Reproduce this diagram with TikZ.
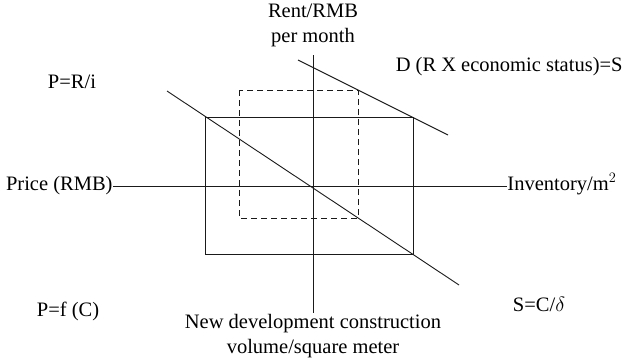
\documentclass[tikz,border=0pt]{standalone}
\usepackage{fontspec}
\setmainfont{Liberation Serif}
\usepackage{xcolor}
\usepackage{tikz}
\usetikzlibrary{positioning, arrows.meta, calc}
\definecolor{linegray}{HTML}{1A1A1A}

\begin{document}
\begin{tikzpicture}[x=1pt, y=-1pt, line width=0.9pt, draw=linegray,
    lbl/.style={inner sep=0pt, font=\fontsize{20.5}{25}\selectfont, align=center}]
    \useasboundingbox (0,0) rectangle (625,364);
    % axis labels
    \node[lbl, anchor=north] (rent) at (313,4) {Rent/RMB\\per month};
    \node[lbl, anchor=north] (vol) at (313,314) {New development construction\\volume/square meter};
    \node[lbl, anchor=east] (price) at (113,186) {Price (RMB)};
    \node[lbl, anchor=west] (inv) at (507,184) {Inventory/m$^2$};
    % curve labels
    \node[lbl] (pri) at (72,82) {P=R/i};
    \node[lbl, anchor=east] (dem) at (623,67) {D (R X economic status)=S};
    \node[lbl] (pfc) at (68,311) {P=f (C)};
    \node[lbl] (sup) at (539,304) {S=C/$\delta$};
    % axes
    \coordinate (vtop) at (313,55);
    \coordinate (vbot) at (313,313);
    \draw (vtop) -- (vbot);
    \draw (price.east) -- (price.east -| inv.west);
    % rectangles
    \draw (205,117) rectangle (413,254);
    \draw[dashed, dash pattern=on 6pt off 4pt] (239,90) rectangle (358,218);
    % supply and demand lines
    \coordinate (sa) at (167,91);
    \coordinate (sb) at (459,285);
    \coordinate (da) at (298,60);
    \coordinate (db) at (448,135);
    \draw (sa) -- (sb);
    \draw (da) -- (db);
  \end{tikzpicture}
\end{document}
